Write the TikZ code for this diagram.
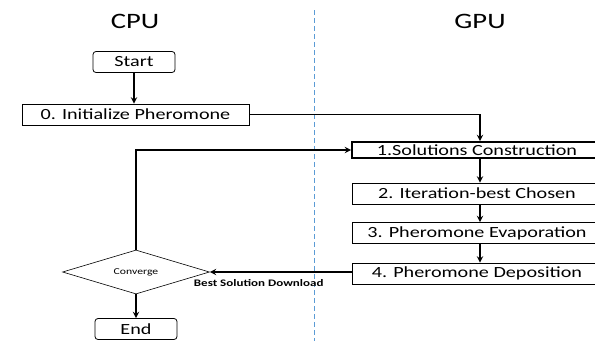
\documentclass[tikz,border=0pt]{standalone}
\usepackage{fontspec}
\setmainfont{Carlito}[FakeStretch=1.3]
\usetikzlibrary{shapes.geometric}
\definecolor{splitblue}{RGB}{91,155,213}

\begin{document}
\begin{tikzpicture}[x=1pt, y=-1pt,
    box/.style = {draw, line width = 0.8pt, inner sep = 0pt, minimum height = 21pt, font = \fontsize{15.5}{17}\selectfont},
    term/.style = {box, rounded corners = 3pt, minimum width = 82pt},
    kernel/.style = {box, minimum width = 250pt},
    flow/.style = {-stealth, line width = 1.8pt}]
    \useasboundingbox (0,0) rectangle (595,341);
    \clip (0,0) rectangle (595,341);

    % host and device columns
    \node[font = \fontsize{22}{24}\selectfont] (cpu) at (135,21) {CPU};
    \node[font = \fontsize{22}{24}\selectfont] (gpu) at (480,21) {GPU};
    \draw[splitblue, line width = 1pt, dash pattern = on 5pt off 3pt] (314,10) -- (314,341);

    % CPU side
    \node[term] (start) at (134,62) {Start};
    \node[box, minimum width = 227pt] (init) at (135.5,114.5) {0. Initialize Pheromone};
    \node[draw, diamond, aspect = 3.3, minimum width = 147pt, minimum height = 44pt, inner sep = 0pt, line width = 0.6pt, font = \fontsize{9}{10}\selectfont] (conv) at (136,272) {Converge};
    \node[term] (end) at (136,329) {End};

    % GPU kernels
    \node[kernel, minimum height = 16pt, line width = 1.8pt] (construct) at (477,150) {1.Solutions Construction};
    \node[kernel] (choose) at (477,193.5) {2. Iteration-best Chosen};
    \node[kernel] (evap) at (477,233) {3. Pheromone Evaporation};
    \node[kernel] (deposit) at (477,273.5) {4. Pheromone Deposition};

    \draw[flow] (start) -- (init.north -| start);
    \draw[flow] (init.east) -| (construct.north -| 480,0);
    \draw[flow] (construct.south -| 480,0) -- (choose.north -| 480,0);
    \draw[flow] (choose.south -| 480,0) -- (evap.north -| 480,0);
    \draw[flow] (evap.south -| 480,0) -- (deposit.north -| 480,0);
    \draw[flow] (deposit.west |- conv.east) -- node[below, font = \fontsize{10}{11}\selectfont\bfseries, xshift = -22pt, yshift = -3pt] {Best Solution Download} (conv.east);
    \draw[flow] (conv.north) |- (construct.west);
    \draw[flow] (conv.south) -- (end.north);
\end{tikzpicture}
\end{document}
